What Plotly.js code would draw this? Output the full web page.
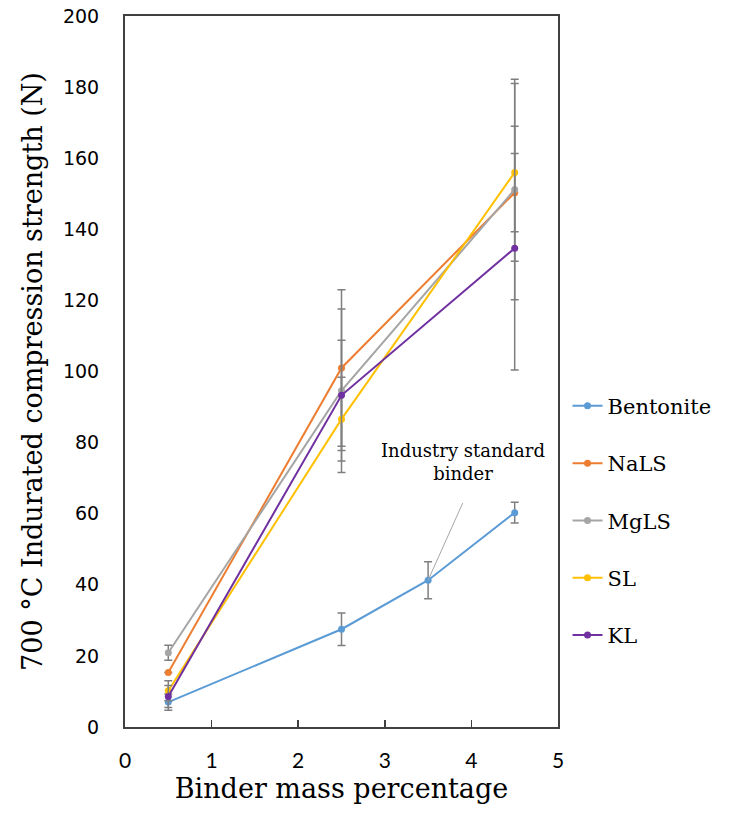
<!DOCTYPE html>
<html>
<head>
<meta charset="utf-8">
<script src="https://cdn.plot.ly/plotly-3.0.1.min.js"></script>
<style>html,body{margin:0;padding:0;background:#fff;}#chart{width:729px;height:820px;}</style>
</head>
<body>
<div id="chart"></div>
<script>
// Data
const xBentonite = [0.5, 2.5, 3.5, 4.5];
const xOthers = [0.5, 2.5, 4.5];

const bentonite = [7.0, 27.5, 41.3, 60.3];
const bentoniteErr = [2.3, 4.6, 5.2, 2.9];

const nals = [15.3, 101.0, 150.3];
const nalsErr = [0, 22.0, 11.0];

const mgls = [20.9, 94.6, 151.2];
const mglsErr = [2.1, 23.0, 31.0];

const sl = [10.2, 86.6, 156.0];
const slErr = [2.8, 11.8, 25.0];

const kl = [8.6, 93.3, 134.7];
const klErr = [3.1, 15.5, 34.3];

const seriesNames = ['Bentonite', 'NaLS', 'MgLS', 'SL', 'KL'];
const seriesColors = ['#5B9BD5', '#ED7D31', '#A5A5A5', '#FFC000', '#7030A0'];

const xTicks = [0, 1, 2, 3, 4, 5];
const yTicks = [0, 20, 40, 60, 80, 100, 120, 140, 160, 180, 200];

const annotationText = 'Industry standard<br>binder';

const serif = 'DejaVu Serif, serif';

function mk(i, xs, ys, errs) {
  return {
    type: 'scatter', mode: 'lines+markers',
    name: seriesNames[i], x: xs, y: ys,
    legendgroup: 'g' + i,
    line: {color: seriesColors[i], width: 2},
    marker: {color: seriesColors[i], size: 7},
    error_y: {type: 'data', array: errs, visible: true, color: '#7F7F7F', thickness: 1.5, width: 4},
    cliponaxis: false
  };
}

const traces = [
  mk(0, xBentonite, bentonite, bentoniteErr),
  mk(1, xOthers, nals, nalsErr),
  mk(2, xOthers, mgls, mglsErr),
  mk(3, xOthers, sl, slErr),
  mk(4, xOthers, kl, klErr)
];

const layout = {
  width: 729, height: 820,
  margin: {l: 125, r: 171, t: 16, b: 93},
  paper_bgcolor: '#fff', plot_bgcolor: '#fff',
  showlegend: true,
  legend: {
    x: 1.022, xanchor: 'left', y: 0.48, yanchor: 'top',
    font: {family: serif, size: 21, color: '#000'},
    tracegroupgap: 27, itemwidth: 30, bgcolor: 'rgba(0,0,0,0)'
  },
  xaxis: {
    range: [0, 5], tickvals: xTicks, ticktext: xTicks.map(String),
    ticks: 'inside', ticklen: 7, tickcolor: '#404040', tickwidth: 1.5,
    showgrid: false, zeroline: false,
    showline: true, linecolor: '#404040', linewidth: 2, mirror: true,
    tickfont: {family: 'Lato, sans-serif', size: 21, color: '#000'},
    ticklabelstandoff: 14,
    title: {text: 'Binder mass percentage', font: {family: serif, size: 27, color: '#000'}, standoff: 8}
  },
  yaxis: {
    range: [0, 200], tickvals: yTicks, ticktext: yTicks.map(String),
    ticks: '', showgrid: false, zeroline: false,
    showline: true, linecolor: '#404040', linewidth: 2, mirror: true,
    tickfont: {family: 'DejaVu Sans, sans-serif', size: 19, color: '#000'},
    ticklabelstandoff: 20,
    title: {text: '700 °C Indurated compression strength (N)', font: {family: serif, size: 27, color: '#000'}, standoff: 12}
  },
  shapes: [{
    type: 'line', xref: 'x', yref: 'y',
    x0: xBentonite[2], y0: bentonite[2], x1: 3.9, y1: 63,
    line: {color: '#A6A6A6', width: 1}
  }],
  annotations: [{
    xref: 'x', yref: 'y', x: 3.9, y: 74.5,
    text: annotationText, showarrow: false,
    font: {family: serif, size: 18, color: '#000'},
    align: 'center', xanchor: 'center', yanchor: 'middle'
  }]
};

Plotly.newPlot('chart', traces, layout, {displayModeBar: false, staticPlot: true});
</script>
</body>
</html>
